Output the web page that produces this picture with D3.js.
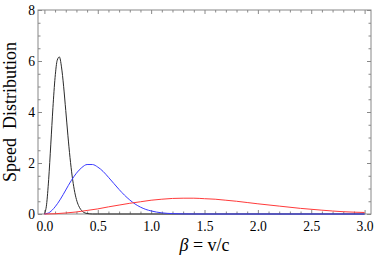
<!DOCTYPE html>
<html>
<head>
<meta charset="utf-8">
<script src="https://cdn.jsdelivr.net/npm/d3@7"></script>
<style>
  body { margin: 0; background: #fff; }
</style>
</head>
<body>
<script>
// values
const betaBlack  = [0, 0.02, 0.04, 0.06, 0.08, 0.10, 0.12, 0.14, 0.16, 0.18, 0.20, 0.22, 0.24, 0.26, 0.28, 0.30, 0.32, 0.34, 0.36, 0.40, 0.45, 0.5, 1.0, 3.0];
const speedBlack = [0, 0.36, 1.36, 2.74, 4.18, 5.35, 6.03, 6.16, 5.77, 5.01, 4.06, 3.09, 2.21, 1.49, 0.95, 0.57, 0.33, 0.18, 0.09, 0.02, 0, 0, 0, 0];

const betaBlue  = [0, 0.05, 0.1, 0.15, 0.2, 0.25, 0.3, 0.35, 0.4, 0.45, 0.5, 0.55, 0.6, 0.65, 0.7, 0.75, 0.8, 0.85, 0.9, 0.95, 1.0, 1.1, 1.2, 1.3, 1.4, 1.5, 3.0];
const speedBlue = [0, 0.07, 0.28, 0.58, 0.94, 1.30, 1.60, 1.82, 1.94, 1.94, 1.84, 1.67, 1.44, 1.20, 0.96, 0.74, 0.55, 0.39, 0.27, 0.18, 0.12, 0.045, 0.015, 0.004, 0.001, 0, 0];

const betaRed  = [0, 0.1, 0.2, 0.3, 0.4, 0.5, 0.6, 0.7, 0.8, 0.9, 1.0, 1.1, 1.2, 1.3, 1.4, 1.5, 1.6, 1.7, 1.8, 1.9, 2.0, 2.2, 2.4, 2.6, 2.8, 3.0];
const speedRed = [0, 0.01, 0.04, 0.08, 0.14, 0.20, 0.28, 0.35, 0.42, 0.48, 0.54, 0.58, 0.61, 0.62, 0.62, 0.60, 0.58, 0.54, 0.50, 0.45, 0.40, 0.31, 0.22, 0.15, 0.09, 0.06];

const xTicks = [0, 0.5, 1.0, 1.5, 2.0, 2.5, 3.0];
const yTicks = [0, 2, 4, 6, 8];

const width = 374;
const height = 258;
const plotLeft = 38, plotRight = 371, plotTop = 10, plotBottom = 214;
const frameColor = "#888";
const serif = '"Liberation Serif", "Times New Roman", "DejaVu Serif", serif';

const xScale = d3.scaleLinear().domain([-0.06, 3.06]).range([plotLeft, plotRight]);
const yScale = d3.scaleLinear().domain([0, 8]).range([plotBottom, plotTop]);

const svg = d3.select("body").append("svg")
    .attr("width", width)
    .attr("height", height);

// shrink or grow a text so its length matches what the reference shows
function fitSize(sel, base, target) {
    const len = sel.node().getComputedTextLength();
    return len > 0 ? base * target / len : base;
}

// size for tick labels, measured on "0.5" (about 17px wide in the reference)
const probe = svg.append("text").style("font-family", serif).style("font-size", "14px").text("0.5");
const tickSize = fitSize(probe, 14, 17);
probe.remove();

const xMinor = d3.range(0, 3.001, 0.1).filter(v => Math.abs(v * 2 - Math.round(v * 2)) > 1e-6);
const yMinor = d3.range(0, 8.001, 0.5).filter(v => Math.abs(v / 2 - Math.round(v / 2)) > 1e-6);

function styleAxis(g) {
    g.attr("font-family", null).attr("font-size", null);
    g.select(".domain").remove();
    g.selectAll(".tick line").attr("stroke", frameColor);
    g.selectAll(".tick text")
        .attr("fill", "#000")
        .style("font-family", serif)
        .style("font-size", tickSize + "px");
}

// bottom
svg.append("g").attr("transform", `translate(0,${plotBottom})`)
    .call(d3.axisBottom(xScale).tickValues(xTicks).tickSize(-4).tickPadding(7.5).tickFormat(d3.format(".1f")))
    .call(styleAxis);
svg.append("g").attr("transform", `translate(0,${plotBottom})`)
    .call(d3.axisBottom(xScale).tickValues(xMinor).tickSize(-2.5).tickFormat(""))
    .call(styleAxis);
// top
svg.append("g").attr("transform", `translate(0,${plotTop})`)
    .call(d3.axisTop(xScale).tickValues(xTicks).tickSize(-4).tickFormat(""))
    .call(styleAxis);
svg.append("g").attr("transform", `translate(0,${plotTop})`)
    .call(d3.axisTop(xScale).tickValues(xMinor).tickSize(-2.5).tickFormat(""))
    .call(styleAxis);
// left
svg.append("g").attr("transform", `translate(${plotLeft},0)`)
    .call(d3.axisLeft(yScale).tickValues(yTicks).tickSize(-4).tickPadding(3).tickFormat(d3.format("d")))
    .call(styleAxis);
svg.append("g").attr("transform", `translate(${plotLeft},0)`)
    .call(d3.axisLeft(yScale).tickValues(yMinor).tickSize(-2.5).tickFormat(""))
    .call(styleAxis);
// right
svg.append("g").attr("transform", `translate(${plotRight},0)`)
    .call(d3.axisRight(yScale).tickValues(yTicks).tickSize(-4).tickFormat(""))
    .call(styleAxis);
svg.append("g").attr("transform", `translate(${plotRight},0)`)
    .call(d3.axisRight(yScale).tickValues(yMinor).tickSize(-2.5).tickFormat(""))
    .call(styleAxis);

svg.append("rect")
    .attr("x", plotLeft).attr("y", plotTop)
    .attr("width", plotRight - plotLeft).attr("height", plotBottom - plotTop)
    .attr("fill", "none")
    .attr("stroke", frameColor)
    .attr("stroke-width", 1);

const line = d3.line()
    .x(d => xScale(d[0]))
    .y(d => yScale(d[1]))
    .curve(d3.curveMonotoneX);

const curves = [
    { xs: betaBlack, ys: speedBlack, color: "#2a2a2a" },
    { xs: betaBlue,  ys: speedBlue,  color: "#3a3aff" },
    { xs: betaRed,   ys: speedRed,   color: "#ff3a3a" }
];

curves.forEach(c => {
    svg.append("path")
        .datum(d3.zip(c.xs, c.ys))
        .attr("d", line)
        .attr("fill", "none")
        .attr("stroke", c.color)
        .attr("stroke-width", 1);
});

const xLabel = svg.append("text")
    .attr("x", (plotLeft + plotRight) / 2)
    .attr("y", 251)
    .attr("text-anchor", "middle")
    .style("font-family", serif)
    .style("font-size", "18px");
xLabel.append("tspan").style("font-style", "italic").text("β");
xLabel.append("tspan").text(" = v/c");
xLabel.style("font-size", Math.min(18, fitSize(xLabel, 18, 52)) + "px");

const yLabel = svg.append("text")
    .attr("transform", `translate(16,${(plotTop + plotBottom) / 2}) rotate(-90)`)
    .attr("text-anchor", "middle")
    .style("font-family", serif)
    .style("font-size", "18px")
    .style("white-space", "pre")
    .text("Speed  Distribution");
yLabel.style("font-size", Math.min(18, fitSize(yLabel, 18, 146)) + "px");
</script>
</body>
</html>
